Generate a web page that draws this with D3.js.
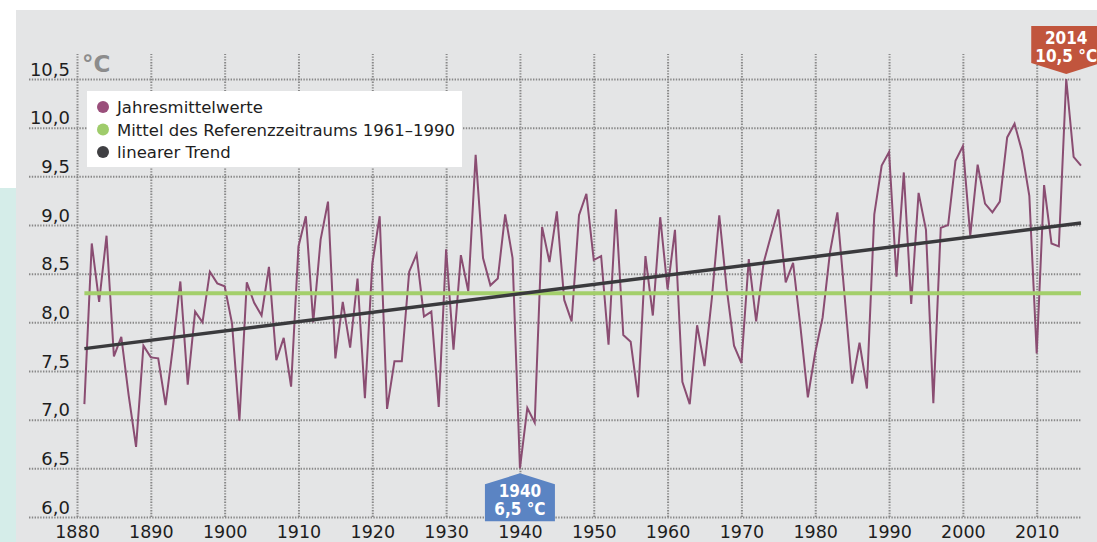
<!DOCTYPE html>
<html>
<head>
<meta charset="utf-8">
<script src="https://cdn.jsdelivr.net/npm/d3@7"></script>
<style>
  body { margin: 0; background: #fff; }
  svg { display: block; font-family: "DejaVu Sans", sans-serif; }
</style>
</head>
<body>
<div id="wrapper"></div>
<script>
// Jahresmittelwerte 1881-2016 (°C)
const years = d3.range(1881, 2017);
const temps = [
  7.16, 8.81, 8.21, 8.89, 7.65, 7.85, 7.25, 6.72, 7.76, 7.64,
  7.63, 7.15, 7.75, 8.42, 7.36, 8.11, 8.00, 8.52, 8.40, 8.37,
  7.99, 6.99, 8.41, 8.20, 8.07, 8.57, 7.61, 7.84, 7.34, 8.78,
  9.09, 8.00, 8.85, 9.24, 7.63, 8.21, 7.74, 8.45, 7.22, 8.60,
  9.09, 7.11, 7.60, 7.60, 8.52, 8.70, 8.06, 8.11, 7.13, 8.75,
  7.72, 8.69, 8.32, 9.72, 8.66, 8.38, 8.45, 9.11, 8.66, 6.50,
  7.12, 6.97, 8.98, 8.62, 9.14, 8.23, 8.01, 9.10, 9.32, 8.64,
  8.68, 7.77, 9.16, 7.87, 7.80, 7.23, 8.68, 8.07, 9.08, 8.34,
  8.95, 7.39, 7.16, 7.97, 7.55, 8.25, 9.10, 8.35, 7.76, 7.58,
  8.65, 8.01, 8.61, 8.89, 9.16, 8.41, 8.61, 7.95, 7.23, 7.69,
  8.05, 8.72, 9.13, 8.25, 7.37, 7.79, 7.32, 9.11, 9.61, 9.75,
  8.47, 9.54, 8.19, 9.33, 8.95, 7.17, 8.97, 9.00, 9.66, 9.81,
  8.89, 9.62, 9.22, 9.13, 9.24, 9.90, 10.04, 9.76, 9.30, 7.68,
  9.41, 8.81, 8.78, 10.50, 9.70, 9.61
];
const referenceMean = 8.3;          // Mittel 1961–1990
const trendYears = [1881, 2016];
const trendValues = [7.73, 9.02];
const yTicks = [6.0, 6.5, 7.0, 7.5, 8.0, 8.5, 9.0, 9.5, 10.0, 10.5];
const xTicks = d3.range(1880, 2011, 10);
const legendLabels = ["Jahresmittelwerte", "Mittel des Referenzzeitraums 1961–1990", "linearer Trend"];
const callouts = [
  { year: 1940, value: 6.5, label: ["1940", "6,5 °C"], dir: "up", color: "#5b84c3" },
  { year: 2014, value: 10.5, label: ["2014", "10,5 °C"], dir: "down", color: "#c1553d" }
];

const width = 1097, height = 542;
const fmt = d => d.toFixed(1).replace(".", ",");

const svg = d3.select("#wrapper").append("svg")
  .attr("width", width)
  .attr("height", height);

// Hintergrund
svg.append("rect").attr("x", 0).attr("y", 188).attr("width", 16).attr("height", height - 188).attr("fill", "#d5ede9");
svg.append("rect").attr("x", 16).attr("y", 10).attr("width", width - 16).attr("height", height - 10).attr("fill", "#e4e5e6");

const xScale = d3.scaleLinear().domain([1880, 2016]).range([77, 1081]);
const yScale = d3.scaleLinear().domain([6, 10.5]).range([517, 79]);

const gridStyle = g => g.selectAll(".tick line")
  .attr("stroke", "#888")
  .attr("stroke-width", 2)
  .attr("stroke-dasharray", "1.4,1.4");

// vertikale Gitterlinien + Jahreszahlen
const xAxis = svg.append("g")
  .attr("transform", `translate(0, ${yScale(6)})`)
  .call(d3.axisBottom(xScale).tickValues(xTicks).tickFormat(d3.format("d"))
    .tickSize(-(yScale(6) - 54)).tickPadding(0));
xAxis.select(".domain").remove();
xAxis.call(gridStyle);
xAxis.selectAll("text")
  .attr("y", 21).attr("dy", 0)
  .attr("font-size", 17.5)
  .attr("font-family", "DejaVu Sans")
  .attr("fill", "#1e1e1e");

// horizontale Gitterlinien + Werte
const yAxis = svg.append("g")
  .attr("transform", "translate(29, 0)")
  .call(d3.axisLeft(yScale).tickValues(yTicks).tickFormat(fmt)
    .tickSize(-(1081 - 29)));
yAxis.select(".domain").remove();
yAxis.call(gridStyle);
yAxis.selectAll("text")
  .attr("x", 41).attr("dy", -4)
  .attr("text-anchor", "end")
  .attr("font-size", 18)
  .attr("font-family", "DejaVu Sans")
  .attr("fill", "#1e1e1e");

svg.append("text")
  .attr("x", 82).attr("y", 72)
  .attr("font-size", 23)
  .attr("font-weight", "bold")
  .attr("fill", "#8c8c8c")
  .text("°C");

// Jahresmittelwerte
const line = d3.line()
  .x((d, i) => xScale(years[i]))
  .y(d => yScale(d));

svg.append("path")
  .attr("d", line(temps))
  .attr("fill", "none")
  .attr("stroke", "#8a4d72")
  .attr("stroke-width", 2)
  .attr("stroke-linejoin", "miter");

// Referenzmittel
svg.append("line")
  .attr("x1", xScale(years[0])).attr("x2", xScale(years[years.length - 1]))
  .attr("y1", yScale(referenceMean)).attr("y2", yScale(referenceMean))
  .attr("stroke", "#a3cf6b")
  .attr("stroke-width", 4);

// linearer Trend
svg.append("line")
  .attr("x1", xScale(trendYears[0])).attr("x2", xScale(trendYears[1]))
  .attr("y1", yScale(trendValues[0])).attr("y2", yScale(trendValues[1]))
  .attr("stroke", "#3a3a3d")
  .attr("stroke-width", 3.5);

// Legende
const legend = svg.append("g");
legend.append("rect")
  .attr("x", 87).attr("y", 91).attr("width", 375).attr("height", 76)
  .attr("fill", "#fff");
const legendColors = ["#9a4f7b", "#9fcc6b", "#404043"];
legendLabels.forEach((label, i) => {
  legend.append("circle")
    .attr("cx", 103).attr("cy", 107 + i * 22.5).attr("r", 6)
    .attr("fill", legendColors[i]);
  legend.append("text")
    .attr("x", 117).attr("y", 113 + i * 22.5)
    .attr("font-size", 16.5)
    .attr("fill", "#1e1e1e")
    .text(label);
});

// Markierungen
callouts.forEach(c => {
  const cx = xScale(c.year);
  const py = yScale(c.value);
  const hw = 35, tip = 11, h = 37;
  let pts;
  if (c.dir === "up") {
    const top = py + 5;
    pts = [[cx, top], [cx + hw, top + tip], [cx + hw, top + tip + h], [cx - hw, top + tip + h], [cx - hw, top + tip]];
  } else {
    const bot = py - 5;
    pts = [[cx, bot], [cx + hw, bot - tip], [cx + hw, bot - tip - h], [cx - hw, bot - tip - h], [cx - hw, bot - tip]];
  }
  svg.append("polygon")
    .attr("points", pts.map(p => p.join(",")).join(" "))
    .attr("fill", c.color);
  const textTop = c.dir === "up" ? py + 5 + tip + 13 : py - 5 - tip - h + 18;
  c.label.forEach((t, j) => {
    svg.append("text")
      .attr("x", cx).attr("y", textTop + j * 18)
      .attr("text-anchor", "middle")
      .attr("font-family", "DejaVu Sans Condensed, DejaVu Sans")
      .attr("font-weight", "bold")
      .attr("font-size", 17)
      .attr("fill", "#fff")
      .text(t);
  });
});
</script>
</body>
</html>
